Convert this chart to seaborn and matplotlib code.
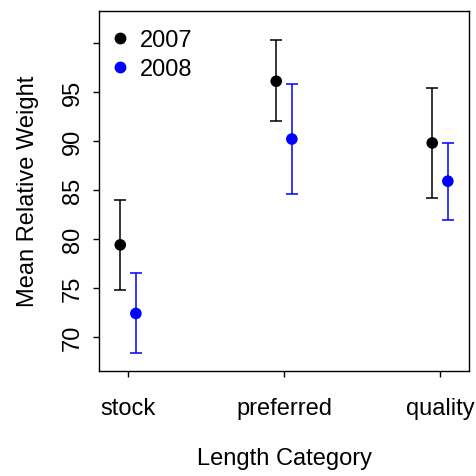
import numpy as np
import pandas as pd
import matplotlib
matplotlib.use("Agg")
import matplotlib.pyplot as plt
import seaborn as sns
from matplotlib.lines import Line2D

# values
categories = ["stock", "preferred", "quality"]
years = ["2007", "2008"]
mean_2007 = [79.4, 96.1, 89.8]
lower_2007 = [74.8, 92.0, 84.2]
upper_2007 = [84.0, 100.3, 95.4]
mean_2008 = [72.4, 90.2, 85.9]
lower_2008 = [68.4, 84.6, 81.9]
upper_2008 = [76.5, 95.8, 89.8]
y_ticks = [70, 75, 80, 85, 90, 95, 100]
y_tick_labels = ["70", "75", "80", "85", "90", "95", ""]

colors = {"2007": "black", "2008": "#0000ff"}
offsets = {"2007": -0.05, "2008": 0.05}

rows = []
for yr, m, lo, hi in [("2007", mean_2007, lower_2007, upper_2007),
                      ("2008", mean_2008, lower_2008, upper_2008)]:
  for i, cat in enumerate(categories):
    rows.append({"category": cat, "year": yr, "mean": m[i], "lower": lo[i], "upper": hi[i],
                 "xpos": i + offsets[yr]})
df = pd.DataFrame(rows)

sns.set_style("ticks")
plt.rcParams["font.family"] = ["Liberation Sans", "DejaVu Sans"]
plt.rcParams["text.color"] = "black"
plt.rcParams["axes.labelcolor"] = "black"
plt.rcParams["xtick.color"] = "black"
plt.rcParams["ytick.color"] = "black"

fig = plt.figure(figsize=(4.77, 4.77), dpi=100)
ax = fig.add_axes([0.207, 0.2208, 0.777, 0.7547])

# error bars first, points on top
for yr in years:
  sub = df[df["year"] == yr]
  ax.errorbar(sub["xpos"], sub["mean"],
              yerr=[sub["mean"] - sub["lower"], sub["upper"] - sub["mean"]],
              fmt="none", ecolor=colors[yr], elinewidth=1.1, capsize=4, capthick=1.1, zorder=2)

sns.scatterplot(data=df, x="xpos", y="mean", hue="year", palette=colors, s=70,
                edgecolor="none", legend=False, ax=ax, zorder=3)

ax.set_xlim(-0.188, 2.188)
ax.set_ylim(66.56, 103.3)
ax.set_xticks(range(len(categories)))
ax.set_xticklabels(categories)
ax.set_yticks(y_ticks)
ax.set_yticklabels(y_tick_labels, rotation=90, va="center")
ax.tick_params(axis="both", labelsize=17, length=4.3, width=1)
ax.tick_params(axis="x", pad=15)
ax.tick_params(axis="y", pad=6.5)
ax.set_xlabel("Length Category", fontsize=17, labelpad=20)
ax.set_ylabel("Mean Relative Weight", fontsize=17, labelpad=16.5)
for sp in ax.spines.values():
  sp.set_visible(True)
  sp.set_linewidth(1)
  sp.set_color("black")

# legend in the top-left corner, no frame
handles = [Line2D([], [], marker="o", linestyle="none", color=colors[yr], markersize=7.5) for yr in years]
ax.legend(handles, years, loc="upper left", bbox_to_anchor=(0.0256, 0.948), frameon=False,
          fontsize=17, handlelength=1.0, handletextpad=0.35, labelspacing=0.28,
          borderaxespad=0, borderpad=0)

fig.savefig("out.png", dpi=100)
